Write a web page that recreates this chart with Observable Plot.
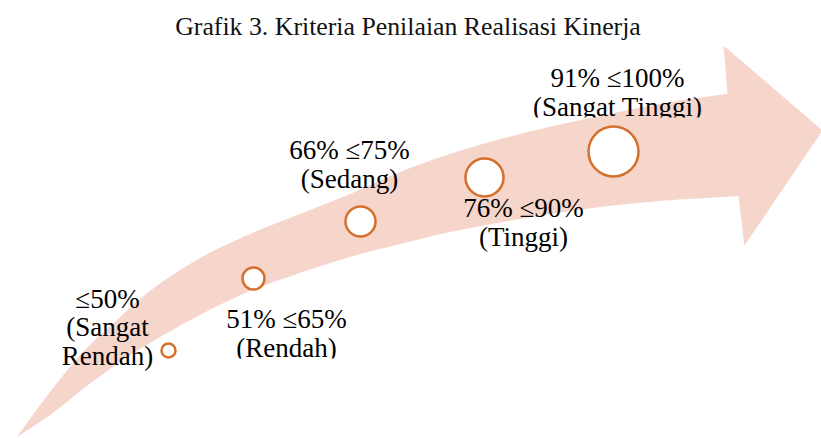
<!DOCTYPE html>
<html><head><meta charset="utf-8">
<script src="https://cdn.jsdelivr.net/npm/d3@7"></script>
<script src="https://cdn.jsdelivr.net/npm/@observablehq/plot@0.6"></script>
<style>
body{margin:0;background:#fff;width:821px;height:438px;overflow:hidden}
#title{box-sizing:border-box;height:40px;padding-top:14px;padding-right:5px;line-height:25px;text-align:center;font-family:"Liberation Serif",serif;font-size:25.8px;color:#111;white-space:nowrap}
#chart svg{display:block}
#chart svg text, #chart svg tspan{font-family:"Liberation Serif",serif !important}
</style></head><body>
<div id="title">Grafik 3. Kriteria Penilaian Realisasi Kinerja</div>
<div id="chart"></div>
<script>
// Categories (criteria, from lowest to highest)
const ranges = ["≤50%", "51% ≤65%", "66% ≤75%", "76% ≤90%", "91% ≤100%"];
const levels = ["(Sangat\nRendah)", "(Rendah)", "(Sedang)", "(Tinggi)", "(Sangat Tinggi)"];

// Diagram layout (in the diagram's own coordinate units)
const circleX = [168, 253, 360, 484, 613];
const circleY = [350, 278, 221, 177, 151];
const circleR = [7, 11, 15, 19, 25];
const labelX = [107, 286, 349, 523, 617];
const labelY = [364, 356, 187, 245, 115];
const clippedLabel = [false, true, false, false, true];

// Curved arrow outline
const bandX = [17, 50, 83, 117, 150, 200, 250, 300, 350, 400, 450, 520, 600, 660, 740];
const bandTop = [437, 392, 352, 320, 291, 258, 234, 214, 194, 172, 154, 134, 116, 104, 92];
const bandBottom = [437, 415, 389, 364, 343, 315, 291, 273, 257, 244, 232, 219, 207, 201, 196];
const headX = [727, 723, 822, 744, 738];
const headY = [93, 45, 130, 245, 196];

const arrowFill = "#f6d5cb";
const ringColor = "#d5702c";

const idx = n => d3.range(n);

const chart = Plot.plot({
  width: 821,
  height: 398,
  margin: 0,
  x: {domain: [0, 821], range: [0, 821], axis: null},
  y: {domain: [40, 438], range: [0, 398], axis: null},
  r: {type: "identity"},
  style: {background: "white", overflow: "visible"},
  marks: [
    Plot.areaY(idx(bandX.length), {
      x: i => bandX[i], y1: i => bandTop[i], y2: i => bandBottom[i],
      fill: arrowFill, curve: "catmull-rom"
    }),
    Plot.line(idx(headX.length), {
      x: i => headX[i], y: i => headY[i],
      fill: arrowFill, stroke: "none", curve: "linear"
    }),
    Plot.dot(idx(ranges.length), {
      x: i => circleX[i], y: i => circleY[i], r: i => circleR[i],
      fill: "white", stroke: ringColor, strokeWidth: 2.5
    }),
    Plot.text(idx(ranges.length), {
      x: i => labelX[i], y: i => labelY[i],
      text: i => ranges[i] + "\n" + levels[i],
      lineAnchor: "bottom", lineHeight: 1.04,
      textAnchor: "middle",
      fontSize: 27, fontFamily: "Liberation Serif", fill: "#000"
    })
  ]
});
document.getElementById("chart").appendChild(chart);
// text boxes cut at the bottom, as in the original
d3.select(chart).selectAll('g[aria-label="text"] text')
  .filter(function(d, k) { return clippedLabel[k]; })
  .style("clip-path", "inset(0px 0px 4px 0px)");
</script>
</body></html>
